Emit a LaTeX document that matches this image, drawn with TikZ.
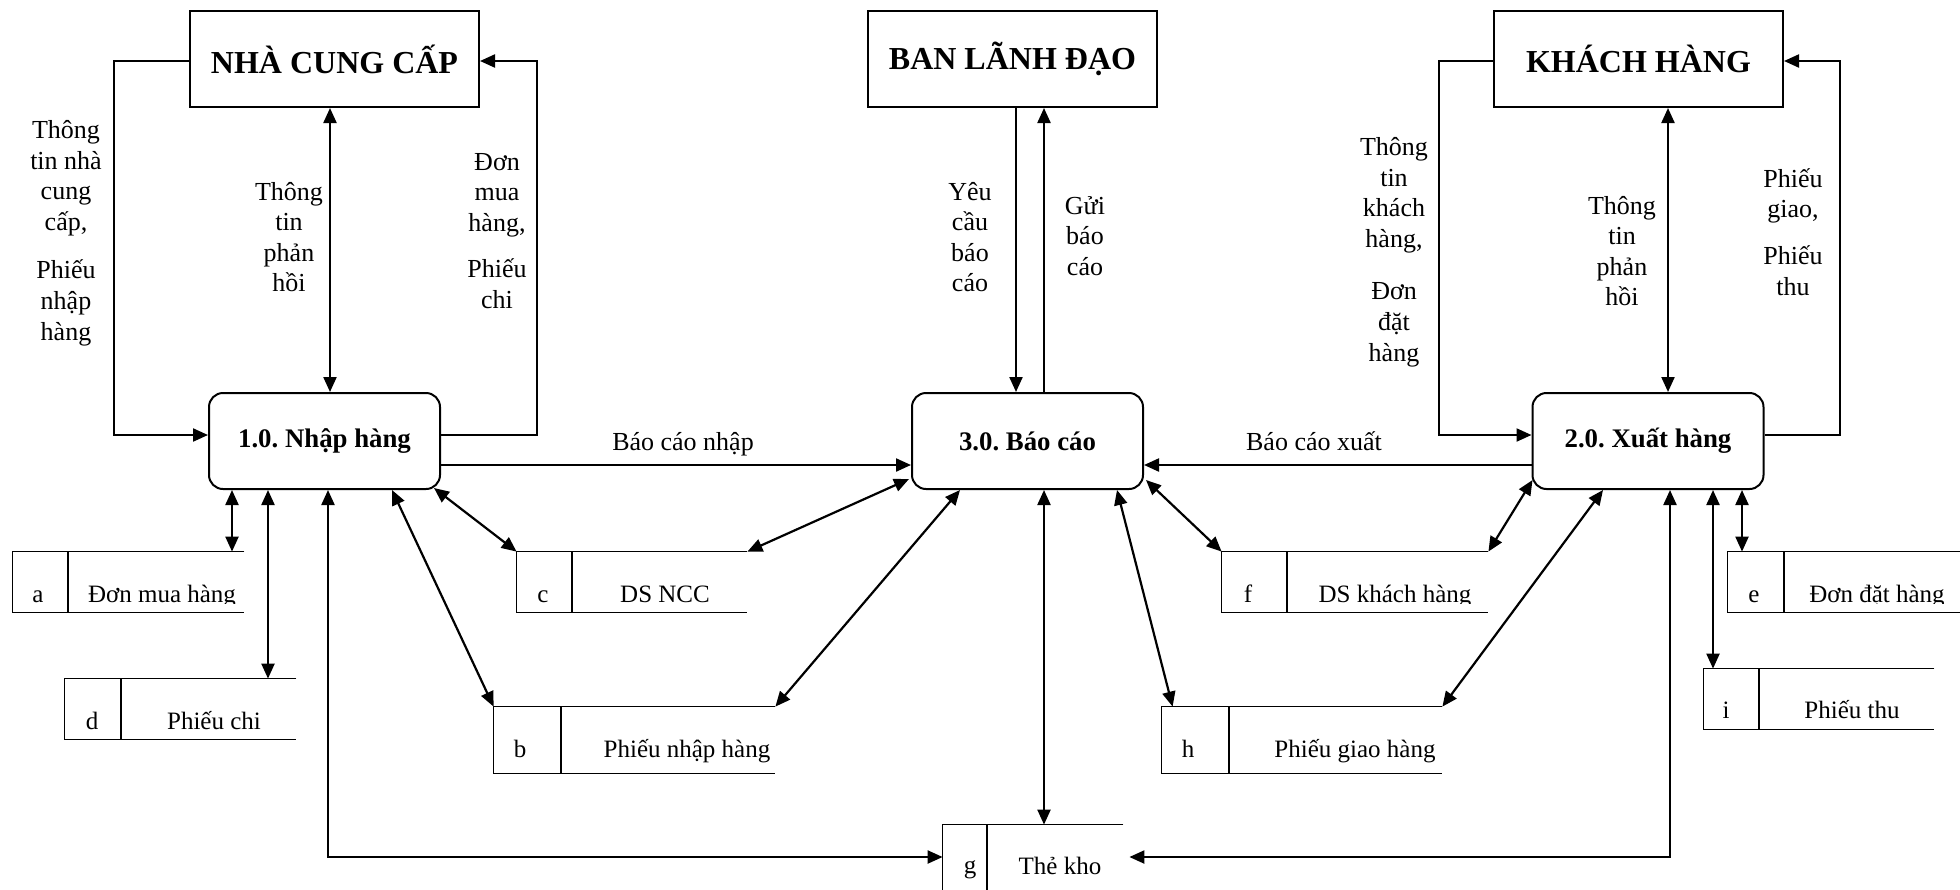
\documentclass[tikz,border=0pt]{standalone}
\usepackage{fontspec}
\setmainfont{Liberation Serif}
\usetikzlibrary{arrows.meta,calc}
\frenchspacing
\begin{document}
\begin{tikzpicture}[x=0.5pt,y=-0.5pt,
  ent/.style={draw, line width=1pt, minimum width=144.5pt, minimum height=48pt, inner sep=0pt, font=\fontsize{16}{19}\selectfont\bfseries},
  proc/.style={draw, line width=1pt, rounded corners=7pt, minimum width=115.5pt, minimum height=48pt, inner sep=0pt, font=\fontsize{13.4}{16}\selectfont\bfseries},
  tip/.tip={Triangle[length=7.5pt,width=6.5pt]},
  flow/.style={line width=1.1pt, -tip},
  both/.style={line width=1.1pt, tip-tip},
  lbl/.style={align=center, inner sep=0pt, font=\fontsize{13}{15.3}\selectfont},
  store/.style={inner sep=0pt, minimum height=30pt},
  sline/.style={line width=0.8pt},
  stxt/.style={anchor=base, inner sep=0pt, font=\fontsize{12.5}{15}\selectfont}
]
\useasboundingbox (0,0) rectangle (1960,889);
\clip (0,0) rectangle (1960,889);

% external entities
\node[ent] (ncc) at (334.5,59) {NHÀ CUNG CẤP};
\node[ent] (bld) at (1012.5,59) {BAN LÃNH ĐẠO};
\node[ent] (kh)  at (1638.5,59) {KHÁCH HÀNG};

% processes
\node[proc] (p1) at (324.5,441) {1.0. Nhập hàng};
\node[proc] (p3) at (1027.5,441) {3.0. Báo cáo};
\node[proc] (p2) at (1648,441) {2.0. Xuất hàng};

% data stores
\node[store, minimum width=115.5pt] (a) at (128.5,582) {};
\node[store, minimum width=115.5pt] (d) at (180.5,709) {};
\node[store, minimum width=115pt]   (c) at (632,582) {};
\node[store, minimum width=140.5pt, minimum height=33pt] (b) at (634.5,740) {};
\node[store, minimum width=133pt]   (f) at (1355,582) {};
\node[store, minimum width=118.5pt] (e) at (1846.5,582) {};
\node[store, minimum width=115pt]   (i) at (1819,699) {};
\node[store, minimum width=140pt, minimum height=33pt] (h) at (1302,740) {};
\node[store, minimum width=90pt, minimum height=40pt] (g) at (1033,865) {};

\foreach \s/\dv in {a/68, d/121, c/572, b/561, f/1287, e/1784, i/1759, h/1229, g/987} {
  \draw[sline] (\s.north east) -- (\s.north west) -- (\s.south west) -- (\s.south east);
  \coordinate (dv\s) at (\dv,0);
  \draw[sline] (\s.north -| dv\s) -- (\s.south -| dv\s);
}

\begin{scope}
\clip (0,540) rectangle (1960,603.5);
\node[stxt] (a-id) at (38,602) {a};
\node[stxt] (a-tx) at (162,602) {Đơn mua hàng};
\node[stxt] (c-id) at (543,602) {c};
\node[stxt] (c-tx) at (665,602) {DS NCC};
\node[stxt] (f-id) at (1248,602) {f};
\node[stxt] (f-tx) at (1395,602) {DS khách hàng};
\node[stxt] (e-id) at (1754,602) {e};
\node[stxt] (e-tx) at (1877,602) {Đơn đặt hàng};
\end{scope}
\node[stxt] (d-id) at (92,729) {d};
\node[stxt] (d-tx) at (214,729) {Phiếu chi};
\node[stxt] (b-id) at (520,757) {b};
\node[stxt] (b-tx) at (687,757) {Phiếu nhập hàng};
\node[stxt] (i-id) at (1726,718) {i};
\node[stxt] (i-tx) at (1852,718) {Phiếu thu};
\node[stxt] (h-id) at (1188,757) {h};
\node[stxt] (h-tx) at (1355,757) {Phiếu giao hàng};
\node[stxt] (g-id) at (970,873) {g};
\node[stxt] (g-tx) at (1060,874) {Thẻ kho};

% labels
\node[lbl] (l1) at (66,233) {Thông\\tin nhà\\cung\\cấp,\\[9pt]Phiếu\\nhập\\hàng};
\node[lbl] (l2) at (289,237) {Thông\\tin\\phản\\hồi};
\node[lbl] (l3) at (497,231) {Đơn\\mua\\hàng,\\[8pt]Phiếu\\chi};
\node[lbl] (l4) at (970,237) {Yêu\\cầu\\báo\\cáo};
\node[lbl] (l5) at (1085,236) {Gửi\\báo\\cáo};
\node[lbl] (l6) at (1394,252) {Thông\\tin\\khách\\hàng,\\[11pt]Đơn\\đặt\\hàng};
\node[lbl] (l7) at (1622,251) {Thông\\tin\\phản\\hồi};
\node[lbl] (l8) at (1793,232) {Phiếu\\giao,\\[8pt]Phiếu\\thu};
\node[lbl, anchor=base] (l9) at (683,450) {Báo cáo nhập};
\node[lbl, anchor=base] (l10) at (1314,450) {Báo cáo xuất};

% helper coordinates
\coordinate (hA) at (114,61);
\coordinate (hB) at (114,435);
\coordinate (hC) at (537,435);
\coordinate (hD) at (537,61);
\coordinate (hE) at (330,0);
\coordinate (hF) at (1016,0);
\coordinate (hG) at (1044,0);
\coordinate (kA) at (1439,61);
\coordinate (kB) at (1439,435);
\coordinate (kC) at (1840,435);
\coordinate (kD) at (1840,61);
\coordinate (kE) at (1668,0);
\coordinate (hH) at (0,465);
\coordinate (v1) at (232,0);
\coordinate (v2) at (268,0);
\coordinate (v3) at (328,857);
\coordinate (v4) at (392,0);
\coordinate (v5) at (960,0);
\coordinate (v6) at (1044,0);
\coordinate (v7) at (1117,0);
\coordinate (v8) at (1603,0);
\coordinate (v9) at (1670,857);
\coordinate (v10) at (1713,0);
\coordinate (v11) at (1742,0);

% entity flows
\draw[flow] (ncc.west |- hA) -- (hA) -- (hB) -- (p1.west |- hB);
\draw[flow] (p1.east |- hC) -- (hC) -- (hD) -- (ncc.east |- hD);
\draw[both] (ncc.south -| hE) -- (p1.north -| hE);
\draw[flow] (bld.south -| hF) -- (p3.north -| hF);
\draw[flow] (p3.north -| hG) -- (bld.south -| hG);
\draw[flow] (kh.west |- kA) -- (kA) -- (kB) -- (p2.west |- kB);
\draw[flow] (p2.east |- kC) -- (kC) -- (kD) -- (kh.east |- kD);
\draw[both] (kh.south -| kE) -- (p2.north -| kE);

% process to process
\draw[flow] (p1.east |- hH) -- (p3.west |- hH);
\draw[flow] (p2.west |- hH) -- (p3.east |- hH);

% store flows
\draw[both] (p1.south -| v1) -- (a.north -| v1);
\draw[both] (p1.south -| v2) -- (d.north -| v2);
\draw[both] (p1.south -| v3) -- (v3) -- (g.west |- v3);
\draw[both] (p1.south -| v4) -- (b.north west);
\draw[both] ($(p1.south east)+(-7,-2)$) -- (c.north west);
\draw[both] (c.north east) -- ($(p3.south west)+(-2,-11)$);
\draw[both] (b.north east) -- (p3.south -| v5);
\draw[both] (p3.south -| v6) -- (g.north -| v6);
\draw[both] (p3.south -| v7) -- ($(h.north west)+(11,0)$);
\draw[both] ($(p3.south east)+(2,-10)$) -- (f.north west);
\draw[both] (f.north east) -- ($(p2.south west)+(1,-10)$);
\draw[both] (h.north east) -- (p2.south -| v8);
\draw[both] (p2.south -| v9) -- (v9) -- ($(g.east |- v9)+(6,0)$);
\draw[both] (p2.south -| v10) -- (i.north -| v10);
\draw[both] (p2.south -| v11) -- (e.north -| v11);
\end{tikzpicture}
\end{document}
